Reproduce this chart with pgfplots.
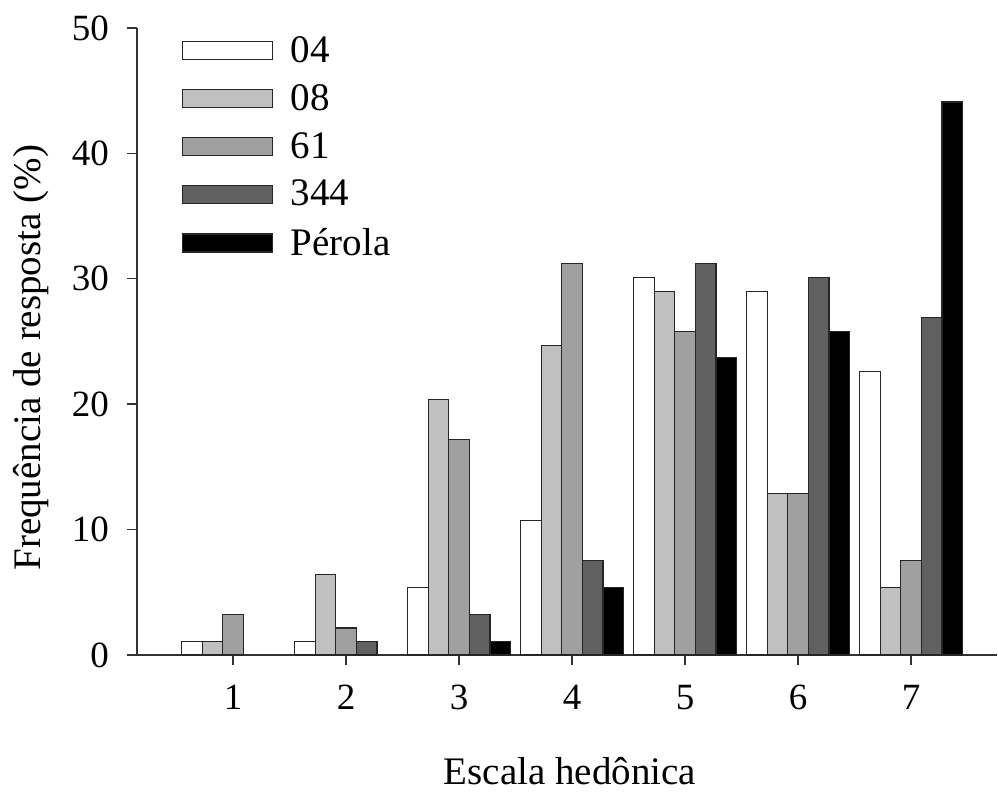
\documentclass[border=0pt]{standalone}
\usepackage{pgfplots}
\pgfplotsset{compat=1.18}
\usepackage{fontspec}
\setmainfont{Liberation Serif}
\definecolor{g1}{HTML}{C0C0C0}
\definecolor{g2}{HTML}{A0A0A0}
\definecolor{g3}{HTML}{606060}
\begin{document}
\begin{tikzpicture}
\begin{axis}[
  scale only axis,
  width=430pt, height=313.5pt,
  xmin=0.15, xmax=7.76,
  ymin=0, ymax=50,
  axis x line=bottom, axis y line=left,
  axis line style={-, line width=0.7pt, black!80},
  xtick={1,2,3,4,5,6,7},
  ytick={0,10,20,30,40,50},
  tick align=outside,
  major tick length=5pt,
  tick style={line width=0.7pt, black!80},
  /pgf/number format/assume math mode=true,
  ticklabel style={font=\fontsize{18.5}{22}\selectfont},
  xticklabel style={yshift=-6.5pt},
  yticklabel style={xshift=-5.5pt},
  label style={font=\fontsize{19.5}{23}\selectfont},
  xlabel={Escala hedônica},
  xlabel style={at={(axis description cs:0.5035,-0.2073)}, anchor=base},
  ylabel={Frequência de resposta (\%)},
  ylabel style={at={(axis description cs:-0.1231,0.474)}, anchor=center},
  ybar=0pt,
  bar width=10.3pt,
  clip=false,
  legend cell align=left,
  legend style={at={(rel axis cs:0.0445,1.0)}, anchor=north west, draw=none, fill=none,
    font=\fontsize{19.5}{23}\selectfont, row sep=5.5pt,
    /tikz/every odd column/.append style={column sep=7pt}},
  legend image code/.code={\draw[#1, line width=0.6pt] (0pt,-4.5pt) rectangle (45pt,4.5pt);},
  every axis plot/.append style={draw=black!85, line width=0.6pt},
]
\addplot[fill=white, bar shift=-20.6pt] coordinates {(1,1.08) (2,1.08) (3,5.38) (4,10.75) (5,30.1) (6,29.0) (7,22.6)};
\addplot[fill=g1, bar shift=-10.3pt] coordinates {(1,1.08) (2,6.45) (3,20.4) (4,24.7) (5,29.0) (6,12.9) (7,5.38)};
\addplot[fill=g2, bar shift=0pt] coordinates {(1,3.23) (2,2.15) (3,17.2) (4,31.2) (5,25.8) (6,12.9) (7,7.53)};
\addplot[fill=g3, bar shift=10.3pt] coordinates {(2,1.08) (3,3.23) (4,7.53) (5,31.2) (6,30.1) (7,26.9)};
\addplot[fill=black, bar shift=20.6pt] coordinates {(3,1.08) (4,5.38) (5,23.7) (6,25.8) (7,44.1)};
\legend{04,08,61,344,Pérola}
\path (rel axis cs:-0.1593,-0.2137) rectangle (rel axis cs:1.0012,1.0447);
\end{axis}
\end{tikzpicture}
\end{document}
